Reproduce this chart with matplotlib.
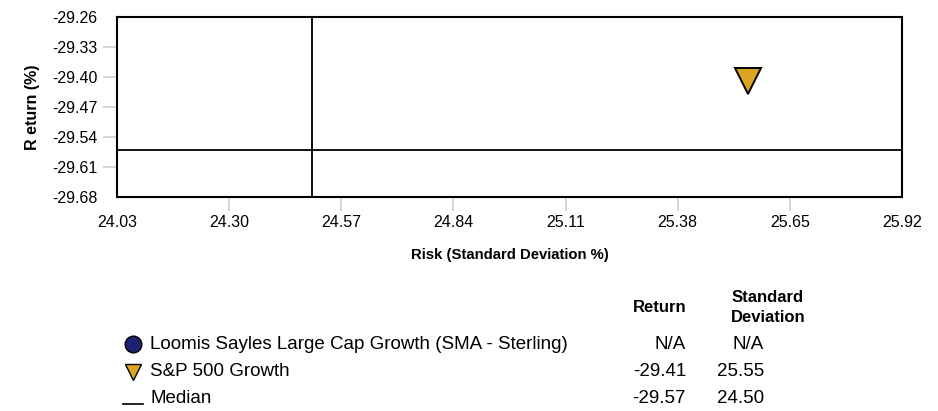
import matplotlib
matplotlib.use("Agg")
import matplotlib.pyplot as plt
from matplotlib.lines import Line2D

plt.rcParams['font.family'] = ['Liberation Sans', 'DejaVu Sans']

# Data
x_ticks = [24.03, 24.30, 24.57, 24.84, 25.11, 25.38, 25.65, 25.92]
y_ticks = [-29.26, -29.33, -29.40, -29.47, -29.54, -29.61, -29.68]
series_names = ["Loomis Sayles Large Cap Growth (SMA - Sterling)", "S&P 500 Growth", "Median"]
series_return = [None, -29.41, -29.57]
series_std = [None, 25.55, 24.50]
median_return = -29.57
median_std = 24.50
benchmark_return = -29.41
benchmark_std = 25.55

navy = "#1c2170"
gold = "#DAA520"
tick_gray = "#d0d0d0"

W, H = 938, 411
fig = plt.figure(figsize=(W / 100, H / 100), dpi=100)

def rect(l, t, r, b):
    return [l / W, 1 - b / H, (r - l) / W, (b - t) / H]

ax = fig.add_axes(rect(117, 17, 902, 197))
ax.set_xlim(x_ticks[0], x_ticks[-1])
ax.set_ylim(y_ticks[-1], y_ticks[0])
ax.set_xticks(x_ticks)
ax.set_xticklabels([f"{v:.2f}" for v in x_ticks], fontsize=11.5)
ax.set_yticks(y_ticks)
ax.set_yticklabels([f"{v:.2f}" for v in y_ticks], fontsize=11.5)
ax.tick_params(axis='both', length=10, width=1.2, color=tick_gray, direction='out')
ax.tick_params(axis='x', pad=3)
ax.tick_params(axis='y', pad=4)
for t in (ax.xaxis.get_major_ticks()[0], ax.xaxis.get_major_ticks()[-1],
          ax.yaxis.get_major_ticks()[0], ax.yaxis.get_major_ticks()[-1]):
    t.tick1line.set_visible(False)
for s in ax.spines.values():
    s.set_linewidth(1.5)
    s.set_color("black")

ax.axvline(median_std, color="black", lw=1.3, zorder=2)
ax.axhline(median_return, color="black", lw=1.3, zorder=2)
ax.plot([benchmark_std], [benchmark_return], marker='v', markersize=19,
        markerfacecolor=gold, markeredgecolor="black", markeredgewidth=1.4,
        linestyle='none', zorder=3)

ax.set_xlabel("Risk (Standard Deviation %)", fontsize=10.75, fontweight='bold', labelpad=13)
ax.set_ylabel("R eturn (%)", fontsize=11.5, fontweight='bold', labelpad=9)

# Legend table
lax = fig.add_axes([0, 0, 1, 1])
lax.set_xlim(0, W)
lax.set_ylim(H, 0)
lax.axis('off')

row_y = [344, 371, 398]
fs = 13.5
hfs = 12
lax.text(686, 307, "Return", ha='right', va='center', fontsize=hfs, fontweight='bold')
lax.text(768, 297, "Standard", ha='center', va='center', fontsize=hfs, fontweight='bold')
lax.text(768, 317, "Deviation", ha='center', va='center', fontsize=hfs, fontweight='bold')

lax.plot([133], [row_y[0]], marker='o', markersize=12, markerfacecolor=navy,
         markeredgecolor="black", markeredgewidth=1.0, linestyle='none')
lax.plot([133], [row_y[1] + 1], marker='v', markersize=12, markerfacecolor=gold,
         markeredgecolor="black", markeredgewidth=1.0, linestyle='none')
lax.add_line(Line2D([123, 143], [row_y[2] + 6, row_y[2] + 6], color="black", lw=1.2))

for i, name in enumerate(series_names):
    lax.text(150, row_y[i], name, ha='left', va='center', fontsize=fs)
    r = series_return[i]
    s = series_std[i]
    lax.text(686, row_y[i], "N/A" if r is None else f"{r:.2f}", ha='right', va='center', fontsize=fs)
    lax.text(764, row_y[i], "N/A" if s is None else f"{s:.2f}", ha='right', va='center', fontsize=fs)

fig.savefig("out.png", dpi=100)
